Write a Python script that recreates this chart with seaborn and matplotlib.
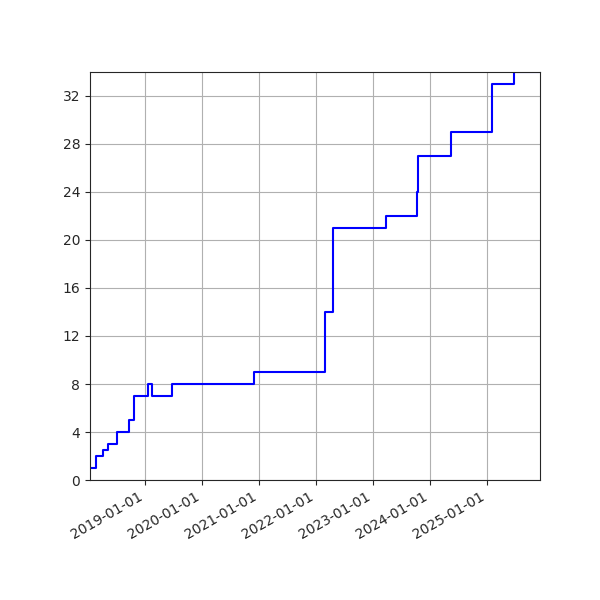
import matplotlib
matplotlib.use("Agg")
import matplotlib.pyplot as plt
import matplotlib.dates as mdates
import seaborn as sns
import pandas as pd

dates = ["2018-01-12", "2018-02-18", "2018-04-07", "2018-05-08", "2018-07-03",
         "2018-09-20", "2018-10-22", "2019-01-18", "2019-02-13", "2019-06-20",
         "2020-11-25", "2022-03-01", "2022-04-20", "2023-03-25", "2023-10-10",
         "2023-10-16", "2024-05-15", "2025-02-02", "2025-06-22", "2025-12-05"]
counts = [1, 2, 2.5, 3, 4, 5, 7, 8, 7, 8, 9, 14, 21, 22, 24, 27, 29, 33, 34, 34]

df = pd.DataFrame({"date": pd.to_datetime(dates), "count": counts})

sns.set_style("ticks")
fig = plt.figure(figsize=(6, 6), dpi=100)
ax = fig.add_axes([0.15, 0.2, 0.75, 0.68])
sns.lineplot(data=df, x="date", y="count", ax=ax, color="blue", drawstyle="steps-post", linewidth=1.5)
ax.set_xlim(df["date"].iloc[0], df["date"].iloc[-1])
ax.set_ylim(0, 34)
ax.set_yticks(range(0, 33, 4))
ax.xaxis.set_major_locator(mdates.YearLocator(month=1, day=1))
ax.xaxis.set_major_formatter(mdates.DateFormatter("%Y-%m-%d"))
ax.grid(True, color="#b0b0b0", linewidth=0.8)
ax.set_xlabel("")
ax.set_ylabel("")
for lbl in ax.get_xticklabels():
    lbl.set_rotation(30)
    lbl.set_ha("right")
fig.savefig("out.png", dpi=100)
